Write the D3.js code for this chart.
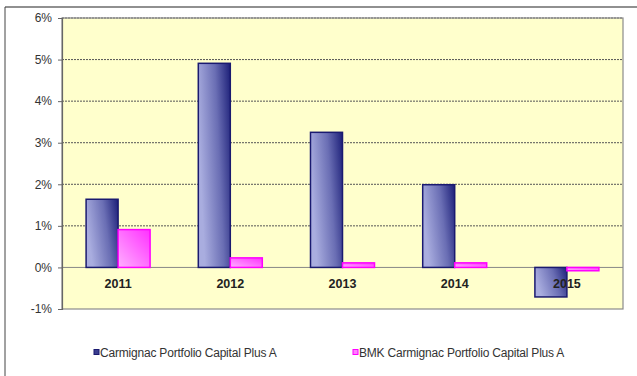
<!DOCTYPE html>
<html>
<head>
<meta charset="utf-8">
<script src="https://cdn.jsdelivr.net/npm/d3@7/dist/d3.min.js"></script>
<style>
  html, body { margin: 0; padding: 0; background: #fff; }
  svg { display: block; font-family: "Liberation Sans", Arial, sans-serif; }
</style>
</head>
<body>
<svg id="chart" width="637" height="376"></svg>
<script>
// Annual performance by year
const years = ["2011", "2012", "2013", "2014", "2015"];
const fundValues = [1.64, 4.91, 3.25, 1.99, -0.71];
const benchmarkValues = [0.91, 0.23, 0.11, 0.11, -0.08];
const seriesNames = ["Carmignac Portfolio Capital Plus A", "BMK Carmignac Portfolio Capital Plus A"];
const yTicks = [-1, 0, 1, 2, 3, 4, 5, 6];

const svg = d3.select("#chart");
const W = 637, H = 376;
const plot = { left: 62, top: 18, right: 623, bottom: 309 };

// Outer frame (top and left edges)
svg.append("line").attr("x1", 5).attr("x2", W).attr("y1", 7).attr("y2", 7)
  .attr("stroke", "#222").attr("stroke-width", 1.2);
svg.append("line").attr("x1", 5).attr("x2", 5).attr("y1", 7).attr("y2", H)
  .attr("stroke", "#444").attr("stroke-width", 1);

const defs = svg.append("defs");
const gFund = defs.append("linearGradient").attr("id", "gFund")
  .attr("x1", "0%").attr("y1", "30%").attr("x2", "100%").attr("y2", "0%");
gFund.append("stop").attr("offset", "0%").attr("stop-color", "#a9addf");
gFund.append("stop").attr("offset", "55%").attr("stop-color", "#6a6eb4");
gFund.append("stop").attr("offset", "100%").attr("stop-color", "#1c1f78");
const gBmk = defs.append("linearGradient").attr("id", "gBmk")
  .attr("x1", "0%").attr("y1", "100%").attr("x2", "100%").attr("y2", "0%");
gBmk.append("stop").attr("offset", "0%").attr("stop-color", "#ffb0ff");
gBmk.append("stop").attr("offset", "100%").attr("stop-color", "#ff30ff");

const x = d3.scaleBand().domain(years).range([plot.left, plot.right]);
const sub = d3.scaleBand().domain([0, 1]).range([0, 64]);
const y = d3.scaleLinear().domain([-1, 6]).range([plot.bottom, plot.top]);

// Plot background
svg.append("rect").attr("x", plot.left).attr("y", plot.top)
  .attr("width", plot.right - plot.left).attr("height", plot.bottom - plot.top)
  .attr("fill", "#ffffcc");

// Dashed gridlines
svg.append("g").selectAll("line").data(yTicks.filter(t => t !== 0 && t !== -1)).join("line")
  .attr("x1", plot.left).attr("x2", plot.right)
  .attr("y1", d => y(d)).attr("y2", d => y(d))
  .attr("stroke", "#555").attr("stroke-width", 1).attr("stroke-dasharray", "2,1");

// Zero line
svg.append("line").attr("x1", plot.left).attr("x2", plot.right)
  .attr("y1", y(0)).attr("y2", y(0)).attr("stroke", "#888").attr("stroke-width", 1);

// Plot border
svg.append("rect").attr("x", plot.left).attr("y", plot.top)
  .attr("width", plot.right - plot.left).attr("height", plot.bottom - plot.top)
  .attr("fill", "none").attr("stroke", "#8a8a8a").attr("stroke-width", 1.2);

// Y axis
const yAxis = d3.axisLeft(y).tickValues(yTicks).tickFormat(d => d + "%").tickSize(4).tickPadding(6);
const ya = svg.append("g").attr("transform", `translate(${plot.left},0)`).call(yAxis);
ya.select(".domain").attr("stroke", "#666").attr("stroke-width", 1.2);
ya.selectAll(".tick line").attr("stroke", "#666");
ya.selectAll("text").attr("fill", "#333").style("font-size", "12px");

// Bars
const rows = years.map((yr, i) => ({ yr, vals: [fundValues[i], benchmarkValues[i]] }));
const groups = svg.append("g").selectAll("g").data(rows).join("g")
  .attr("transform", d => `translate(${x(d.yr) + x.bandwidth() / 2 - 32},0)`);
groups.selectAll("rect").data(d => d.vals.map((v, k) => ({ v, k }))).join("rect")
  .attr("x", d => sub(d.k))
  .attr("width", sub.bandwidth())
  .attr("y", d => y(Math.max(0, d.v)))
  .attr("height", d => Math.abs(y(d.v) - y(0)))
  .attr("fill", d => d.k === 0 ? "url(#gFund)" : "url(#gBmk)")
  .attr("stroke", d => d.k === 0 ? "#1a1a70" : "#ff00ff")
  .attr("stroke-width", 1.5);

// Category labels just below the zero line
svg.append("g").selectAll("text").data(years).join("text")
  .attr("x", d => x(d) + x.bandwidth() / 2)
  .attr("y", y(0) + 21)
  .attr("text-anchor", "middle")
  .attr("font-weight", "bold")
  .attr("font-size", "12.5px")
  .attr("fill", "#222")
  .text(d => d);

// Legend
const legend = [
  { name: seriesNames[0], x: 94, fill: "#3a3d8f", stroke: "#1a1a70" },
  { name: seriesNames[1], x: 353, fill: "#ff80ff", stroke: "#ff00ff" }
];
const lg = svg.append("g").selectAll("g").data(legend).join("g")
  .attr("transform", d => `translate(${d.x},353)`);
lg.append("rect").attr("x", 0).attr("y", -3.5).attr("width", 5).attr("height", 5)
  .attr("fill", d => d.fill).attr("stroke", d => d.stroke).attr("stroke-width", 1);
lg.append("text").attr("x", 6).attr("y", 3.5)
  .attr("font-size", "12px").attr("fill", "#333")
  .attr("letter-spacing", "-0.2")
  .text(d => d.name);
</script>
</body>
</html>
